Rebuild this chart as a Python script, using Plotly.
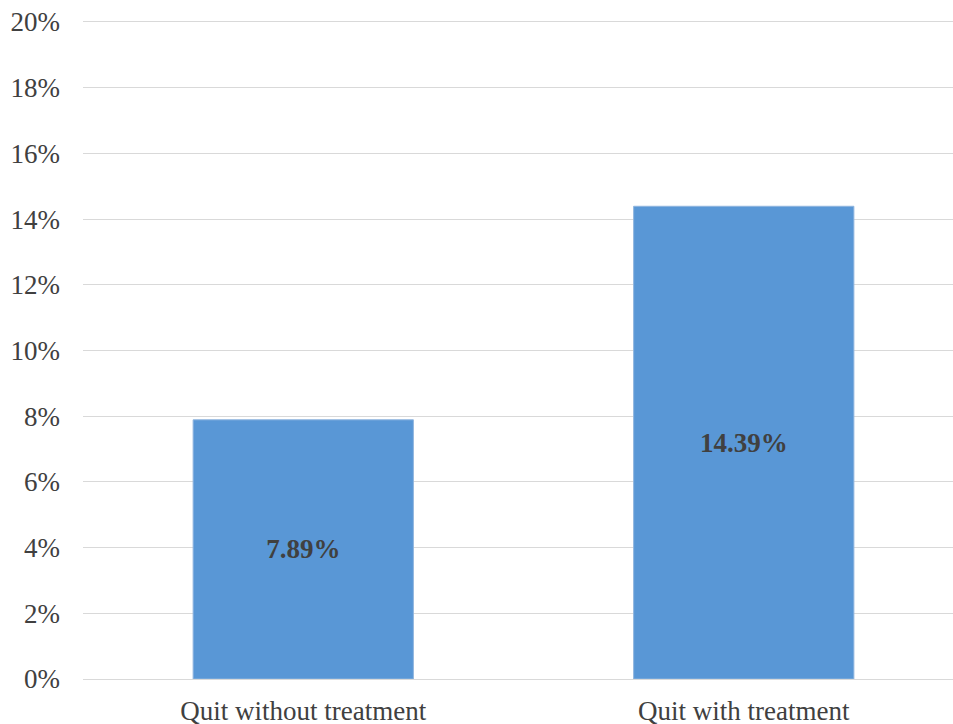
import plotly.graph_objects as go

categories = ["Quit without treatment", "Quit with treatment"]
values = [0.0789, 0.1439]
labels = ["7.89%", "14.39%"]

fig = go.Figure()
fig.add_trace(go.Bar(
    x=categories,
    y=values,
    width=0.5,
    text=labels,
    textposition="inside",
    insidetextanchor="middle",
    textfont=dict(family="Liberation Serif", size=27, color="#404040", weight="bold"),
    marker=dict(color="#5997d6", line=dict(color="#8fb5df", width=1)),
    hoverinfo="skip",
))

fig.update_layout(
    width=953, height=724,
    margin=dict(l=83, r=0, t=20, b=45),
    paper_bgcolor="white", plot_bgcolor="white",
    showlegend=False,
    font=dict(family="Liberation Serif", size=27, color="#404040"),
    xaxis=dict(
        type="category",
        range=[-0.5, 1.475],
        automargin=False,
        showgrid=False, zeroline=False, showline=False,
        ticks="", ticklabelstandoff=13,
        tickfont=dict(family="Liberation Serif", size=27, color="#404040"),
    ),
    yaxis=dict(
        range=[0, 0.2006],
        automargin=False,
        tickvals=[0, 0.02, 0.04, 0.06, 0.08, 0.10, 0.12, 0.14, 0.16, 0.18, 0.20],
        tickformat=".0%",
        showgrid=True, gridcolor="#d9d9d9", gridwidth=1,
        zeroline=True, zerolinecolor="#d9d9d9", zerolinewidth=1,
        showline=False, ticks="",
        ticklabelstandoff=22,
        tickfont=dict(family="Liberation Serif", size=27, color="#404040"),
    ),
)

fig.write_html("out.html")
